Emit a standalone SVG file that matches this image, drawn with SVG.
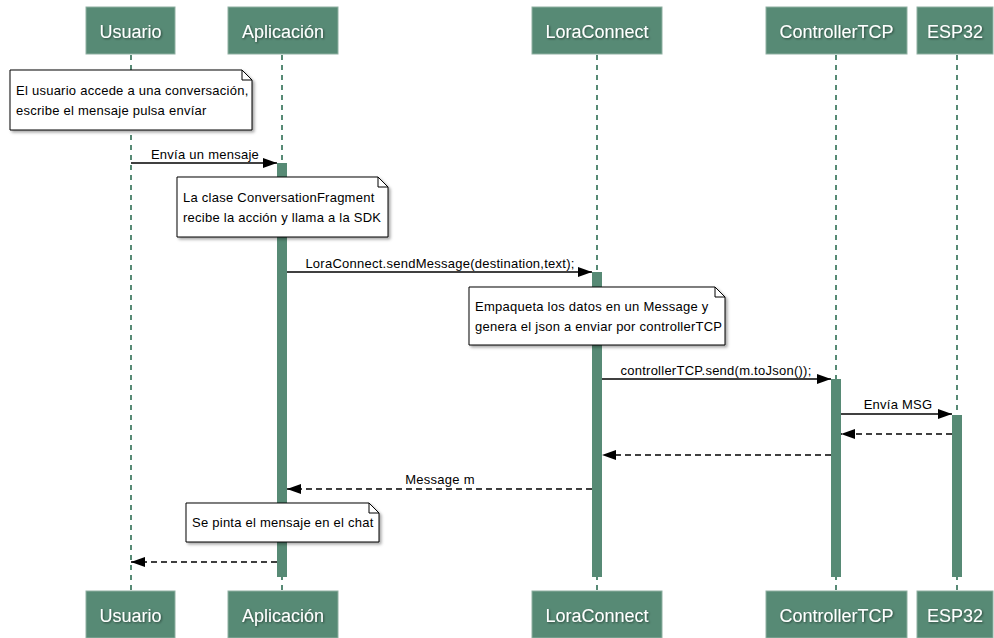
<svg xmlns="http://www.w3.org/2000/svg" width="994" height="638" viewBox="0 0 994 638">
  <style>
    .actor rect { fill: #578a75; stroke: #8fb0a2; stroke-width: 1; }
    .actor text { fill: #ffffff; font-family: "Liberation Sans", Arial, sans-serif; font-size: 18px; text-anchor: middle; filter: url(#txtShadow); }
    .life { stroke: #578a75; stroke-width: 2; stroke-dasharray: 5 5; fill: none; }
    .act { fill: #578a75; stroke: none; }
    .msg { stroke: #000; stroke-width: 1.5; fill: none; marker-end: url(#arrow); }
    .ret { stroke: #000; stroke-width: 1.5; fill: none; stroke-dasharray: 6 4; marker-end: url(#arrow); }
    .lbl { font-family: "Liberation Sans", Arial, sans-serif; font-size: 13px; letter-spacing: 0.25px; fill: #000; text-anchor: middle; }
    .note path { fill: #ffffff; stroke: #000; stroke-width: 1; filter: url(#noteShadow); }
    .note .fold { fill: none; stroke: #000; stroke-width: 1; filter: none; }
    .note text { font-family: "Liberation Sans", Arial, sans-serif; font-size: 13px; letter-spacing: 0.25px; fill: #000; }
  </style>
  <defs>
    <marker id="arrow" markerWidth="14" markerHeight="10" refX="14" refY="5" orient="auto" markerUnits="userSpaceOnUse">
      <path d="M0,0 L14,5 L0,10 Z" fill="#000"/>
    </marker>
    <filter id="noteShadow" x="-10%" y="-20%" width="130%" height="150%">
      <feDropShadow dx="2" dy="2" stdDeviation="1.5" flood-color="#000" flood-opacity="0.35"/>
    </filter>
    <filter id="txtShadow" x="-10%" y="-30%" width="130%" height="160%">
      <feDropShadow dx="1" dy="1" stdDeviation="0.8" flood-color="#000" flood-opacity="0.5"/>
    </filter>
  </defs>

  <!-- lifelines -->
  <g id="lifelines">
    <line class="life" x1="131" y1="55" x2="131" y2="591"/>
    <line class="life" x1="282" y1="55" x2="282" y2="591"/>
    <line class="life" x1="597" y1="55" x2="597" y2="591"/>
    <line class="life" x1="836" y1="55" x2="836" y2="591"/>
    <line class="life" x1="957" y1="55" x2="957" y2="591"/>
  </g>

  <!-- activation bars -->
  <g id="activations">
    <rect class="act" x="277" y="163" width="10" height="414"/>
    <rect class="act" x="592" y="272" width="10" height="305"/>
    <rect class="act" x="831" y="379" width="10" height="198"/>
    <rect class="act" x="952" y="415" width="10" height="162"/>
  </g>

  <!-- participants, top -->
  <g id="usuario-top" class="actor"><rect x="86" y="7" width="89" height="47"/><text x="130.5" y="38">Usuario</text></g>
  <g id="aplicacion-top" class="actor"><rect x="228" y="7" width="110" height="47"/><text x="283" y="38">Aplicación</text></g>
  <g id="loraconnect-top" class="actor"><rect x="532" y="7" width="130" height="47"/><text x="597" y="38">LoraConnect</text></g>
  <g id="controllertcp-top" class="actor"><rect x="766" y="7" width="141" height="47"/><text x="836.5" y="38">ControllerTCP</text></g>
  <g id="esp32-top" class="actor"><rect x="917" y="7" width="76" height="47"/><text x="955" y="38">ESP32</text></g>

  <!-- participants, bottom -->
  <g id="usuario-bottom" class="actor"><rect x="86" y="591" width="89" height="47"/><text x="130.5" y="622">Usuario</text></g>
  <g id="aplicacion-bottom" class="actor"><rect x="228" y="591" width="110" height="47"/><text x="283" y="622">Aplicación</text></g>
  <g id="loraconnect-bottom" class="actor"><rect x="532" y="591" width="130" height="47"/><text x="597" y="622">LoraConnect</text></g>
  <g id="controllertcp-bottom" class="actor"><rect x="766" y="591" width="141" height="47"/><text x="836.5" y="622">ControllerTCP</text></g>
  <g id="esp32-bottom" class="actor"><rect x="917" y="591" width="76" height="47"/><text x="955" y="622">ESP32</text></g>

  <!-- messages -->
  <g id="connectors">
    <line class="msg" x1="131" y1="163" x2="277" y2="163"/>
    <text class="lbl" x="205" y="159">Envía un mensaje</text>

    <line class="msg" x1="287" y1="272" x2="592" y2="272"/>
    <text class="lbl" x="440" y="268">LoraConnect.sendMessage(destination,text);</text>

    <line class="msg" x1="602" y1="379" x2="831" y2="379"/>
    <text class="lbl" x="716" y="375">controllerTCP.send(m.toJson());</text>

    <line class="msg" x1="841" y1="414" x2="952" y2="414"/>
    <text class="lbl" x="898" y="409">Envía MSG</text>

    <line class="ret" x1="952" y1="434" x2="841" y2="434"/>
    <line class="ret" x1="831" y1="455" x2="602" y2="455"/>

    <line class="ret" x1="592" y1="489" x2="287" y2="489"/>
    <text class="lbl" x="440" y="484">Message m</text>

    <line class="ret" x1="277" y1="562" x2="131" y2="562"/>
  </g>

  <!-- notes -->
  <g id="note-usuario" class="note">
    <path d="M10,70 H242 L252,80 V130 H10 Z"/>
    <path class="fold" d="M242,70 V80 H252"/>
    <text x="16" y="95">El usuario accede a una conversación,</text>
    <text x="16" y="115">escribe el mensaje pulsa envíar</text>
  </g>
  <g id="note-app" class="note">
    <path d="M177,177 H378 L388,187 V237 H177 Z"/>
    <path class="fold" d="M378,177 V187 H388"/>
    <text x="183" y="202">La clase ConversationFragment</text>
    <text x="183" y="222">recibe la acción y llama a la SDK</text>
  </g>
  <g id="note-lora" class="note">
    <path d="M469,287 H715 L725,297 V345 H469 Z"/>
    <path class="fold" d="M715,287 V297 H725"/>
    <text x="475" y="311">Empaqueta los datos en un Message y</text>
    <text x="475" y="331">genera el json a enviar por controllerTCP</text>
  </g>
  <g id="note-chat" class="note">
    <path d="M186,503 H369 L379,513 V542 H186 Z"/>
    <path class="fold" d="M369,503 V513 H379"/>
    <text x="192" y="527">Se pinta el mensaje en el chat</text>
  </g>
</svg>
